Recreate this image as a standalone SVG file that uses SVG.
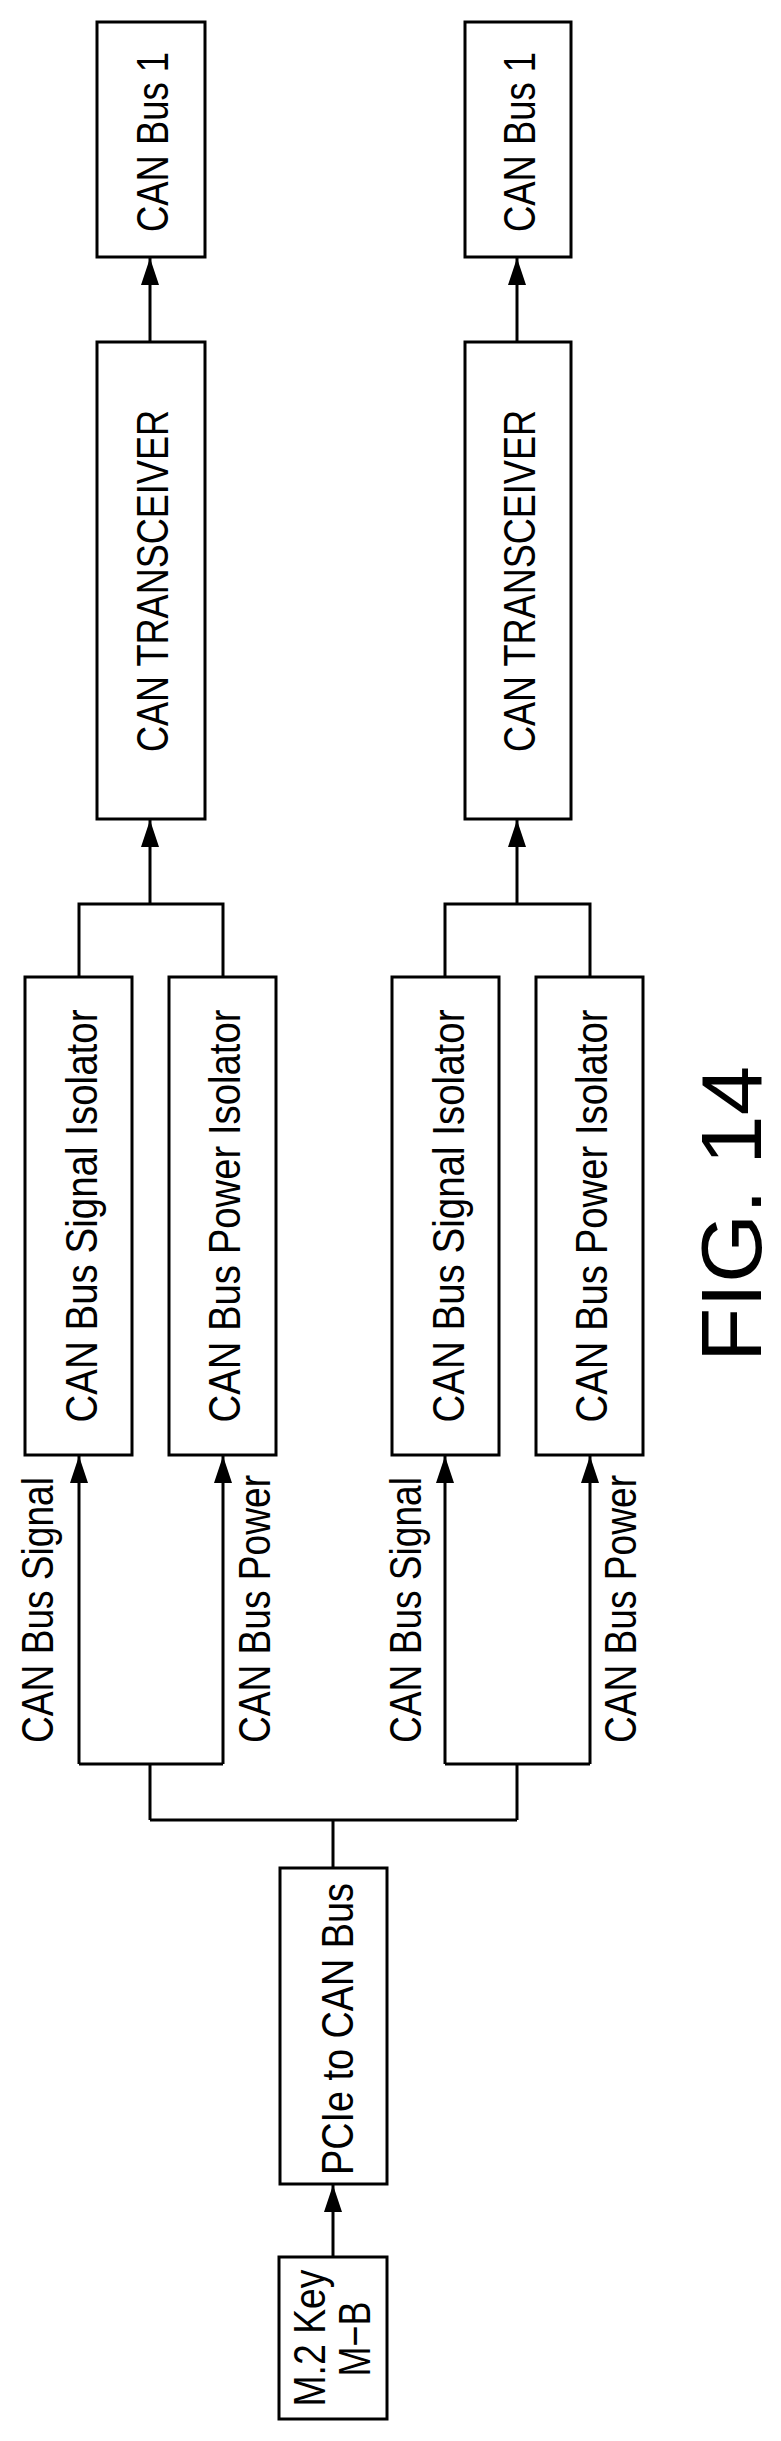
<svg xmlns="http://www.w3.org/2000/svg" width="781" height="2441" viewBox="0 0 781 2441">
<defs>
<marker id="ah" viewBox="0 0 27 18" refX="27" refY="9" markerWidth="27" markerHeight="18" markerUnits="userSpaceOnUse" orient="auto"><path d="M0,0 L27,9 L0,18 Z" fill="#000"/></marker>
<style>
rect{fill:#fff;stroke:#000;stroke-width:3}
.c path{fill:none;stroke:#000;stroke-width:3}
text{font-family:"Liberation Sans",Arial,sans-serif;font-size:44px;fill:#000;text-anchor:middle;dominant-baseline:central}
</style>
</defs>
<rect width="781" height="2441" fill="#fff" style="stroke:none"/>
<g class="c" id="connectors">
<path d="M150,342 V258" marker-end="url(#ah)"/>
<path d="M517,342 V258" marker-end="url(#ah)"/>
<path d="M150,904 V820" marker-end="url(#ah)"/>
<path d="M517,904 V820" marker-end="url(#ah)"/>
<path d="M79,977 V904 H223 V977"/>
<path d="M445,977 V904 H590 V977"/>
<path d="M79,1764 V1456" marker-end="url(#ah)"/>
<path d="M223,1764 V1456" marker-end="url(#ah)"/>
<path d="M445,1764 V1456" marker-end="url(#ah)"/>
<path d="M590,1764 V1456" marker-end="url(#ah)"/>
<path d="M79,1764 H223 M150,1764 V1820"/>
<path d="M445,1764 H590 M517,1764 V1820"/>
<path d="M150,1820 H517 M333,1820 V1868"/>
<path d="M333,2257 V2185" marker-end="url(#ah)"/>
</g>
<g id="canbus1a"><rect x="97" y="22" width="108" height="235"/><text transform="translate(152,142) rotate(-90)" textLength="180" lengthAdjust="spacingAndGlyphs">CAN Bus 1</text></g>
<g id="canbus1b"><rect x="465" y="22" width="106" height="235"/><text transform="translate(519,142) rotate(-90)" textLength="180" lengthAdjust="spacingAndGlyphs">CAN Bus 1</text></g>
<g id="transa"><rect x="97" y="342" width="108" height="477"/><text transform="translate(152,581) rotate(-90)" textLength="342" lengthAdjust="spacingAndGlyphs">CAN TRANSCEIVER</text></g>
<g id="transb"><rect x="465" y="342" width="106" height="477"/><text transform="translate(519,581) rotate(-90)" textLength="342" lengthAdjust="spacingAndGlyphs">CAN TRANSCEIVER</text></g>
<g id="sigisoa"><rect x="25" y="977" width="107" height="478"/><text transform="translate(81,1216) rotate(-90)" textLength="413" lengthAdjust="spacingAndGlyphs">CAN Bus Signal Isolator</text></g>
<g id="powisoa"><rect x="169" y="977" width="107" height="478"/><text transform="translate(224,1216) rotate(-90)" textLength="413" lengthAdjust="spacingAndGlyphs">CAN Bus Power Isolator</text></g>
<g id="sigisob"><rect x="392" y="977" width="107" height="478"/><text transform="translate(448,1216) rotate(-90)" textLength="413" lengthAdjust="spacingAndGlyphs">CAN Bus Signal Isolator</text></g>
<g id="powisob"><rect x="536" y="977" width="107" height="478"/><text transform="translate(591,1216) rotate(-90)" textLength="413" lengthAdjust="spacingAndGlyphs">CAN Bus Power Isolator</text></g>
<g id="labels">
<text transform="translate(37,1610) rotate(-90)" textLength="266" lengthAdjust="spacingAndGlyphs">CAN Bus Signal</text>
<text transform="translate(254,1609) rotate(-90)" textLength="268" lengthAdjust="spacingAndGlyphs">CAN Bus Power</text>
<text transform="translate(405,1610) rotate(-90)" textLength="266" lengthAdjust="spacingAndGlyphs">CAN Bus Signal</text>
<text transform="translate(620,1609) rotate(-90)" textLength="268" lengthAdjust="spacingAndGlyphs">CAN Bus Power</text>
</g>
<g id="pcie"><rect x="280" y="1868" width="107" height="316"/><text transform="translate(337,2029) rotate(-90)" textLength="292" lengthAdjust="spacingAndGlyphs">PCIe to CAN Bus</text></g>
<g id="m2"><rect x="279" y="2257" width="108" height="162"/>
<text transform="translate(309,2338) rotate(-90)" textLength="137" lengthAdjust="spacingAndGlyphs">M.2 Key</text>
<text transform="translate(354,2339) rotate(-90)" textLength="75" lengthAdjust="spacingAndGlyphs">M−B</text></g>
<text transform="translate(731,1214) rotate(-90)" style="font-size:86px" textLength="296" lengthAdjust="spacingAndGlyphs">FIG. 14</text>
</svg>
